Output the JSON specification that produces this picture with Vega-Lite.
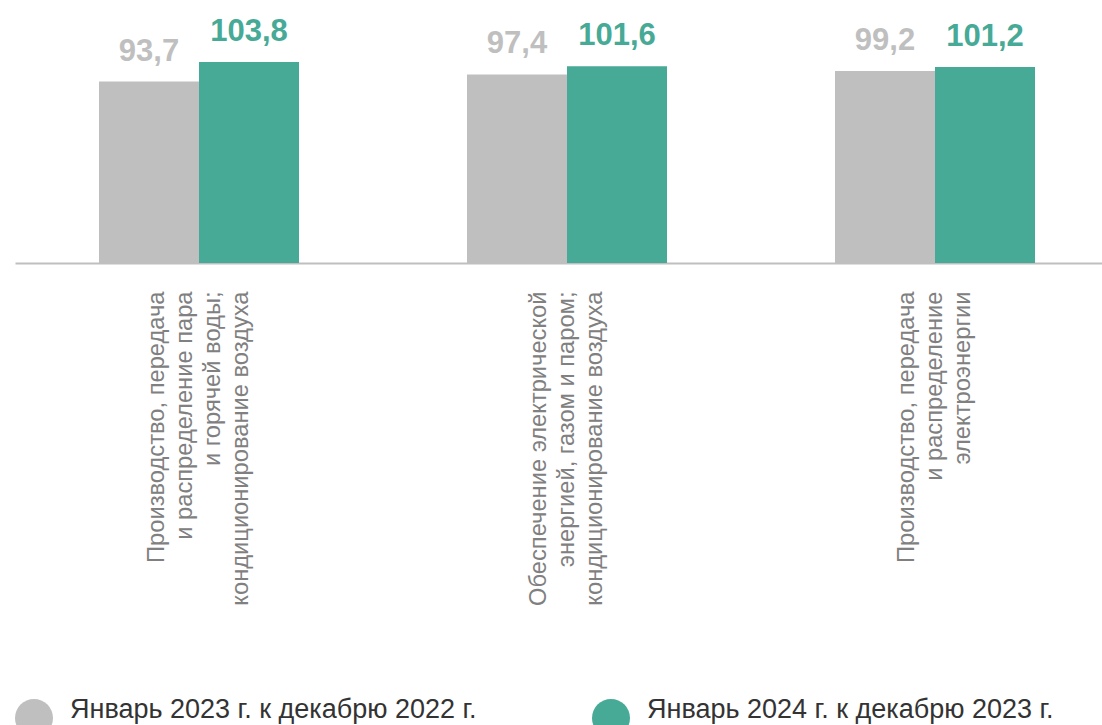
{
  "$schema": "https://vega.github.io/schema/vega-lite/v6.json",
  "autosize": {"type": "none"},
  "padding": {"left": 15, "top": 50, "right": 0, "bottom": 462},
  "width": 1087,
  "height": 213,
  "config": {
    "view": {"stroke": null},
    "locale": {"number": {"decimal": ",", "thousands": " ", "grouping": [3], "currency": ["", ""]}},
    "font": "Liberation Sans"
  },
  "data": {
    "values": [
      {"cat": "Производство, передача\nи распределение пара\nи горячей воды;\nкондиционирование воздуха", "series": "Январь 2023 г. к декабрю 2022 г.", "value": 93.7},
      {"cat": "Производство, передача\nи распределение пара\nи горячей воды;\nкондиционирование воздуха", "series": "Январь 2024 г. к декабрю 2023 г.", "value": 103.8},
      {"cat": "Обеспечение электрической\nэнергией, газом и паром;\nкондиционирование воздуха", "series": "Январь 2023 г. к декабрю 2022 г.", "value": 97.4},
      {"cat": "Обеспечение электрической\nэнергией, газом и паром;\nкондиционирование воздуха", "series": "Январь 2024 г. к декабрю 2023 г.", "value": 101.6},
      {"cat": "Производство, передача\nи распределение\nэлектроэнергии", "series": "Январь 2023 г. к декабрю 2022 г.", "value": 99.2},
      {"cat": "Производство, передача\nи распределение\nэлектроэнергии", "series": "Январь 2024 г. к декабрю 2023 г.", "value": 101.2}
    ]
  },
  "encoding": {
    "x": {
      "field": "cat",
      "type": "nominal",
      "sort": null,
      "scale": {"range": [0, 1104], "paddingInner": 0, "paddingOuter": 0},
      "axis": {
        "title": null,
        "labelAngle": -90,
        "labelAlign": "right",
        "labelBaseline": "middle",
        "labelExpr": "split(datum.label, '\\n')",
        "labelFontSize": 23.7,
        "labelLineHeight": 28,
        "labelColor": "#808080",
        "labelFont": "Liberation Sans",
        "labelPadding": 28,
        "labelOffset": {"condition": {"test": "length(split(datum.label, '\\n')) == 4", "value": -42}, "value": -28},
        "labelLimit": 600,
        "ticks": false,
        "domainColor": "#bfbfbf",
        "domainWidth": 2
      }
    },
    "xOffset": {
      "field": "series",
      "type": "nominal",
      "scale": {"paddingInner": 0, "paddingOuter": 0.84}
    },
    "y": {
      "field": "value",
      "type": "quantitative",
      "scale": {"domain": [0, 110]},
      "axis": null
    },
    "color": {
      "field": "series",
      "type": "nominal",
      "scale": {
        "domain": ["Январь 2023 г. к декабрю 2022 г.", "Январь 2024 г. к декабрю 2023 г."],
        "range": ["#bfbfbf", "#46aa96"]
      },
      "legend": {
        "title": null,
        "orient": "none",
        "legendX": 0,
        "legendY": 649,
        "direction": "horizontal",
        "symbolType": "circle",
        "symbolSize": 1444,
        "symbolStrokeWidth": 0,
        "labelFontSize": 27,
        "labelColor": "#333333",
        "labelFont": "Liberation Sans",
        "labelBaseline": "alphabetic",
        "labelOffset": 17,
        "labelLimit": 700,
        "columnPadding": 115,
        "padding": 0
      }
    }
  },
  "layer": [
    {"mark": {"type": "bar"}},
    {
      "mark": {"type": "text", "fontSize": 31, "fontWeight": "bold", "baseline": "alphabetic", "dy": -21, "font": "Liberation Sans"},
      "encoding": {
        "text": {"field": "value", "type": "quantitative", "format": ".1f"}
      }
    }
  ]
}
